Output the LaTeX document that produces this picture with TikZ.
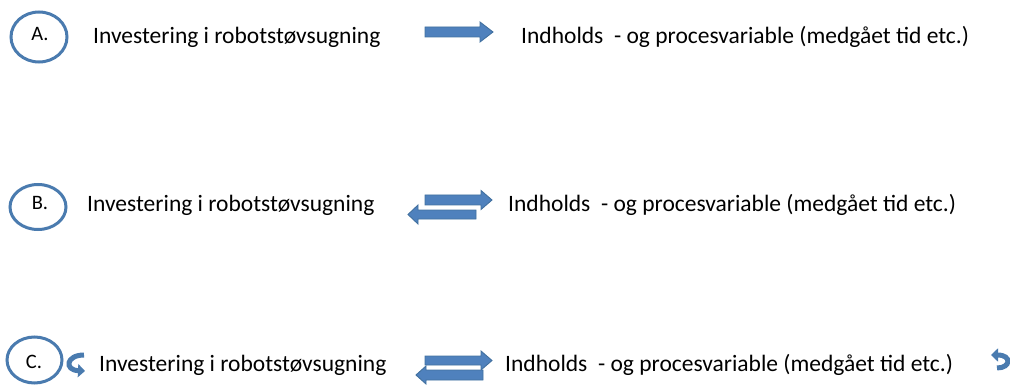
\documentclass[tikz,border=0pt]{standalone}
\usepackage{fontspec}
\setmainfont{Carlito}
\usetikzlibrary{arrows.meta}
\definecolor{ringblue}{HTML}{4A7BAF}
\definecolor{arrowfill}{HTML}{4F81BD}
\definecolor{arrowlight}{HTML}{729FD5}
\definecolor{arrowedge}{HTML}{41709F}
\tikzset{
  body/.style={anchor=base west, inner sep=0pt, font=\fontsize{23.5}{26}\selectfont},
  ring/.style={draw=ringblue, line width=3pt, fill=white},
  ringlabel/.style={anchor=base, inner sep=0pt, font=\fontsize{20.5}{22}\selectfont},
  blockarrow/.style={shade, top color=arrowfill, middle color=arrowlight, bottom color=arrowfill, draw=arrowedge, line width=0.9pt, line join=miter},
  curvedarrow/.style={draw=ringblue, line width=5pt, -{Triangle[length=7pt,width=13pt]}}
}
\begin{document}
\begin{tikzpicture}[x=1pt,y=-1pt]
\useasboundingbox (0,0) rectangle (1010,385);
% ---------- row A ----------
\draw[ring] (39,37) ellipse [x radius=28, y radius=25];
\node[ringlabel] (la) at (40,41) {A.};
\node[body] (a1) at (93,44) {Investering i robotstøvsugning};
\node[body] (a2) at (521,44) {Indholds\ \ - og procesvariable (medgået tid etc.)};
\path[blockarrow] (425,27) -- (480,27) -- (480,22) -- (493,32) -- (480,42) -- (480,37) -- (425,37) -- cycle;
% ---------- row B ----------
\draw[ring] (38,207) ellipse [x radius=28, y radius=22.5];
\node[ringlabel] (lb) at (40,209) {B.};
\node[body] (b1) at (87,211.5) {Investering i robotstøvsugning};
\node[body] (b2) at (508,211.5) {Indholds\ \ - og procesvariable (medgået tid etc.)};
\path[blockarrow] (425,195) -- (481,195) -- (481,190.5) -- (492,200) -- (481,209.5) -- (481,205) -- (425,205) -- cycle;
\path[blockarrow] (476,210) -- (418,210) -- (418,205) -- (408,214.5) -- (418,224) -- (418,219) -- (476,219) -- cycle;
% ---------- row C ----------
\draw[ring] (34.5,360) ellipse [x radius=27.5, y radius=23];
\node[ringlabel] (lc) at (34,368.5) {C.};
\node[body] (c1) at (99,371.5) {Investering i robotstøvsugning};
\node[body] (c2) at (505,371.5) {Indholds\ \ - og procesvariable (medgået tid etc.)};
\path[blockarrow] (425,356) -- (481,356) -- (481,351) -- (492,360.5) -- (481,370) -- (481,365) -- (425,365) -- cycle;
\path[blockarrow] (483,370) -- (426,370) -- (426,366) -- (416,375) -- (426,384) -- (426,380) -- (483,380) -- cycle;
\draw[curvedarrow] (84,355) .. controls (66,355) and (64,370) .. (85,371);
\draw[curvedarrow] (997,368) .. controls (1011,368) and (1012,355) .. (991,355);
\end{tikzpicture}
\end{document}
